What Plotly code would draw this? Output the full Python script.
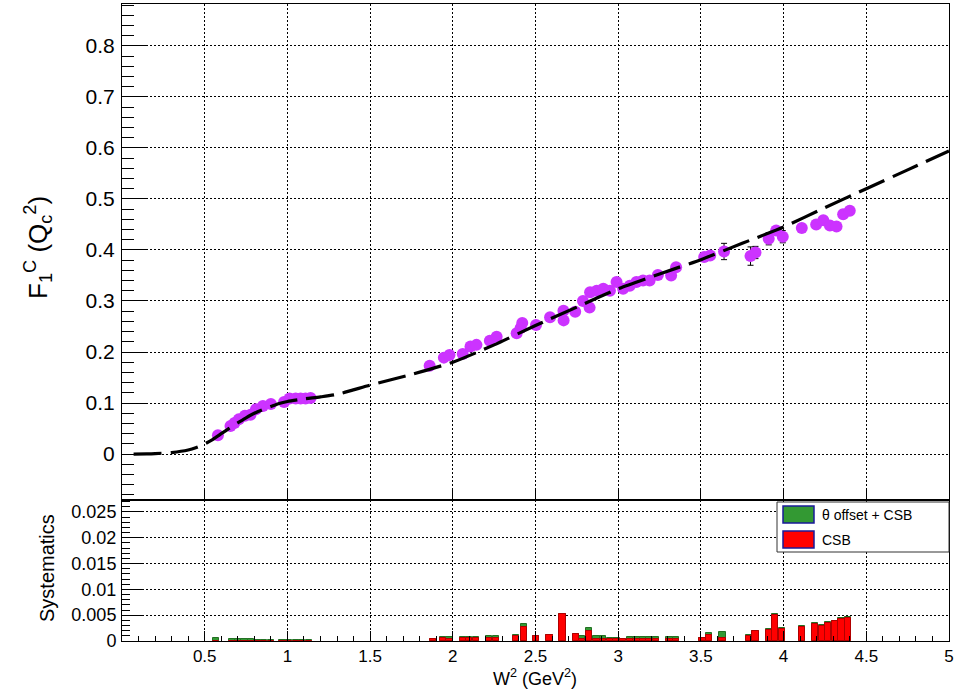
import plotly.graph_objects as go

W, H = 971, 694

# ---------------- data ----------------
w2_data = [0.58, 0.656, 0.68, 0.706, 0.743, 0.777, 0.81, 0.852, 0.90, 0.98, 1.013, 1.05, 1.08, 1.11, 1.14,
           1.86, 1.946, 1.98, 2.06, 2.107, 2.143, 2.224, 2.265, 2.386, 2.42, 2.41, 2.503, 2.588, 2.669, 2.67,
           2.74, 2.787, 2.827, 2.83, 2.87, 2.91, 2.95, 2.99, 3.03, 3.07, 3.11, 3.15, 3.19, 3.24, 3.32, 3.35,
           3.52, 3.556, 3.64, 3.80, 3.83, 3.91, 3.955, 3.995, 4.11, 4.197, 4.24, 4.28, 4.32, 4.36, 4.40]
f1_data = [0.037, 0.055, 0.061, 0.068, 0.075, 0.077, 0.088, 0.094, 0.098, 0.102, 0.109, 0.109, 0.109, 0.109, 0.110,
           0.173, 0.189, 0.194, 0.196, 0.211, 0.214, 0.222, 0.230, 0.237, 0.257, 0.247, 0.253, 0.268, 0.281, 0.262,
           0.279, 0.300, 0.287, 0.317, 0.320, 0.324, 0.320, 0.337, 0.324, 0.330, 0.337, 0.340, 0.340, 0.351, 0.350, 0.366,
           0.386, 0.389, 0.397, 0.388, 0.395, 0.422, 0.438, 0.426, 0.443, 0.450, 0.458, 0.448, 0.446, 0.470, 0.477]
f1_err = [0.003, 0.003, 0.003, 0.003, 0.003, 0.003, 0.003, 0.003, 0.003, 0.003, 0.003, 0.003, 0.003, 0.003, 0.003,
          0.004, 0.004, 0.004, 0.004, 0.004, 0.004, 0.004, 0.004, 0.004, 0.004, 0.004, 0.004, 0.004, 0.005, 0.005,
          0.005, 0.005, 0.005, 0.006, 0.006, 0.006, 0.006, 0.006, 0.006, 0.006, 0.006, 0.006, 0.006, 0.006, 0.006, 0.006,
          0.005, 0.005, 0.016, 0.018, 0.012, 0.012, 0.008, 0.012, 0.005, 0.008, 0.006, 0.006, 0.006, 0.008, 0.008]

model_w2 = [0.07, 0.15, 0.2, 0.3, 0.4, 0.45, 0.5, 0.55, 0.6, 0.65, 0.7, 0.75, 0.8, 0.85, 0.9, 0.95, 1.0, 1.1, 1.2,
            1.3, 1.5, 1.75, 2.0, 2.25, 2.5, 2.75, 3.0, 3.25, 3.5, 3.75, 4.0, 4.25, 4.5, 4.75, 5.0]
model_f1 = [0.0, 0.0004, 0.001, 0.003, 0.008, 0.013, 0.020, 0.029, 0.040, 0.051, 0.061, 0.071, 0.080, 0.087, 0.093,
            0.099, 0.103, 0.108, 0.112, 0.117, 0.135, 0.156, 0.180, 0.214, 0.252, 0.288, 0.324, 0.353, 0.381, 0.413,
            0.445, 0.483, 0.520, 0.557, 0.594]

sys_w2 = [0.57, 0.665, 0.70, 0.74, 0.78, 0.82, 0.86, 0.90, 0.97, 1.01, 1.05, 1.09, 1.13,
          1.88, 1.94, 1.98, 2.06, 2.10, 2.14, 2.22, 2.26, 2.38, 2.43, 2.503, 2.585, 2.664, 2.745, 2.782, 2.825,
          2.868, 2.91, 2.95, 2.99, 3.03, 3.07, 3.11, 3.15, 3.19, 3.23, 3.31, 3.35, 3.51, 3.55, 3.63,
          3.79, 3.83, 3.91, 3.95, 3.99, 4.11, 4.19, 4.23, 4.27, 4.31, 4.35, 4.39]
sys_total = [0.0006, 0.00045, 0.00045, 0.0004, 0.0004, 0.00025, 0.00025, 0.00025, 0.00025, 0.00025, 0.00025, 0.00025, 0.00025,
             0.0003, 0.0008, 0.0008, 0.0008, 0.0008, 0.0008, 0.0009, 0.0009, 0.0011, 0.0032, 0.0009, 0.0011, 0.0052, 0.0014,
             0.0009, 0.0026, 0.001, 0.0009, 0.0006, 0.0006, 0.00045, 0.0007, 0.0007, 0.0007, 0.0007, 0.0007, 0.0008, 0.0008,
             0.0006, 0.0015, 0.0017, 0.0011, 0.0020, 0.0024, 0.0052, 0.0025, 0.0030, 0.0034, 0.0031, 0.0036, 0.0039,
             0.0044, 0.0046]
sys_csb = [0.00008, 0.00005, 0.00005, 0.00005, 0.00005, 0.00005, 0.00005, 0.00005, 0.00005, 0.00005, 0.00005, 0.00005, 0.00005,
           0.0003, 0.0005, 0.0004, 0.0005, 0.0005, 0.0005, 0.0005, 0.0006, 0.0009, 0.0028, 0.0009, 0.0011, 0.0052, 0.0014,
           0.0004, 0.0020, 0.0004, 0.0004, 0.0003, 0.0003, 0.0003, 0.0003, 0.0003, 0.0004, 0.0004, 0.0004, 0.0004, 0.0004,
           0.0005, 0.0012, 0.0006, 0.0010, 0.0019, 0.0022, 0.0051, 0.0024, 0.0028, 0.0033, 0.0030, 0.0035, 0.0038,
           0.0043, 0.0045]

top_ytick_vals = [0, 0.1, 0.2, 0.3, 0.4, 0.5, 0.6, 0.7, 0.8]
top_ytick_text = ["0", "0.1", "0.2", "0.3", "0.4", "0.5", "0.6", "0.7", "0.8"]
bot_ytick_vals = [0, 0.005, 0.01, 0.015, 0.02, 0.025]
bot_ytick_text = ["0", "0.005", "0.01", "0.015", "0.02", "0.025"]
xtick_vals = [0.5, 1, 1.5, 2, 2.5, 3, 3.5, 4, 4.5, 5]
xtick_text = ["0.5", "1", "1.5", "2", "2.5", "3", "3.5", "4", "4.5", "5"]
legend_labels = ["θ offset + CSB", "CSB"]

# ---------------- geometry helpers ----------------
def px(x):
    return x / W

def py(y):
    return 1 - y / H

X0, X1 = 122, 949
TOP_Y0, TOP_Y1 = 4, 500
BOT_Y1 = 641
FONT = "Liberation Sans, Arial, sans-serif"
PURPLE = "#cc33ff"
GREEN = "#339933"
RED = "#ff0000"

fig = go.Figure()

fig.add_trace(go.Scatter(
    x=w2_data, y=f1_data, mode="markers", xaxis="x", yaxis="y",
    marker=dict(color=PURPLE, size=12, line=dict(width=0)),
    error_y=dict(type="data", array=f1_err, color="black", thickness=1, width=3),
    showlegend=False))

fig.add_trace(go.Scatter(
    x=model_w2, y=model_f1, mode="lines", xaxis="x", yaxis="y",
    line=dict(color="black", width=3.2, dash="28px,9px", shape="spline", smoothing=0.6),
    showlegend=False))

fig.add_trace(go.Bar(
    x=sys_w2, y=sys_total, xaxis="x2", yaxis="y2", width=0.038,
    marker=dict(color=GREEN, line=dict(color="#237023", width=1)), showlegend=False))
fig.add_trace(go.Bar(
    x=sys_w2, y=sys_csb, xaxis="x2", yaxis="y2", width=0.038,
    marker=dict(color=RED, line=dict(color="#b00000", width=1)), showlegend=False))

grid = dict(showgrid=True, gridcolor="black", gridwidth=1, griddash="2px,2px")
axline = dict(showline=True, linecolor="black", linewidth=1, mirror=True, zeroline=False,
              automargin=False)

fig.update_layout(
    template="none",
    width=W, height=H, autosize=False,
    margin=dict(l=0, r=0, t=0, b=0, pad=0, autoexpand=False),
    paper_bgcolor="white", plot_bgcolor="white",
    barmode="overlay", bargap=0,
    showlegend=False,
    font=dict(family=FONT, color="black"),
    xaxis=dict(domain=[px(X0), px(X1)], anchor="y", range=[0, 5], tickvals=xtick_vals,
               showticklabels=False, ticks="inside", ticklen=12, tickcolor="black",
               **grid, **axline),
    yaxis=dict(domain=[py(TOP_Y1), py(TOP_Y0)], anchor="x", range=[-0.09, 0.882],
               tickvals=top_ytick_vals, ticktext=top_ytick_text,
               ticks="inside", ticklen=24, tickcolor="black",
               tickfont=dict(size=21, family=FONT), ticklabelstandoff=2,
               minor=dict(dtick=0.02, tick0=0, ticks="inside", ticklen=12, tickcolor="black", showgrid=False),
               **grid, **axline),
    xaxis2=dict(domain=[px(X0), px(X1)], anchor="y2", range=[0, 5], matches="x",
                tickvals=xtick_vals, ticktext=xtick_text,
                ticks="inside", ticklen=10, tickcolor="black",
                tickfont=dict(size=17, family=FONT),
                minor=dict(dtick=0.1, tick0=0, ticks="inside", ticklen=5, tickcolor="black", showgrid=False),
                **grid, **axline),
    yaxis2=dict(domain=[py(BOT_Y1), py(TOP_Y1)], anchor="x2", range=[0, 0.0273],
                tickvals=bot_ytick_vals, ticktext=bot_ytick_text,
                ticks="inside", ticklen=20, tickcolor="black",
                tickfont=dict(size=18, family=FONT), ticklabelstandoff=1,
                minor=dict(dtick=0.001, tick0=0, ticks="inside", ticklen=8, tickcolor="black", showgrid=False),
                **grid, **axline),
)

annotations = [
    dict(text="F<sub>1</sub><sup>C</sup> (Q<sub>c</sub><sup>2</sup>)", x=px(38), y=py(248),
         xref="paper", yref="paper", textangle=-90, showarrow=False,
         font=dict(size=26, family=FONT), xanchor="center", yanchor="middle"),
    dict(text="Systematics", x=px(47), y=py(568), xref="paper", yref="paper", textangle=-90,
         showarrow=False, font=dict(size=20, family=FONT), xanchor="center", yanchor="middle"),
    dict(text="W<sup>2</sup> (GeV<sup>2</sup>)", x=px(535), y=py(677), xref="paper", yref="paper",
         showarrow=False, font=dict(size=18, family=FONT), xanchor="center", yanchor="middle"),
]

# legend drawn manually
LX0, LX1, LY0, LY1 = 777, 949, 502, 552
shapes = [
    dict(type="rect", xref="paper", yref="paper", x0=px(LX0), x1=px(LX1), y0=py(LY1), y1=py(LY0),
         line=dict(color="#333333", width=1), fillcolor="white", layer="above"),
]
sw = [(GREEN, 506, 523), (RED, 531, 548)]
for (col, y0, y1), lab in zip(sw, legend_labels):
    shapes.append(dict(type="rect", xref="paper", yref="paper", x0=px(783), x1=px(814),
                       y0=py(y1), y1=py(y0), fillcolor=col, line=dict(color="#1a1a99", width=1.5),
                       layer="above"))
    annotations.append(dict(text=lab, x=px(820), y=py((y0 + y1) / 2), xref="paper", yref="paper",
                            showarrow=False, xanchor="left", yanchor="middle",
                            font=dict(size=14, family=FONT)))

fig.update_layout(shapes=shapes, annotations=annotations)

post = ("document.documentElement.style.margin='0';document.body.style.margin='0';"
        "document.documentElement.style.overflow='hidden';document.body.style.overflow='hidden';")
fig.write_html("out.html", post_script=post)
